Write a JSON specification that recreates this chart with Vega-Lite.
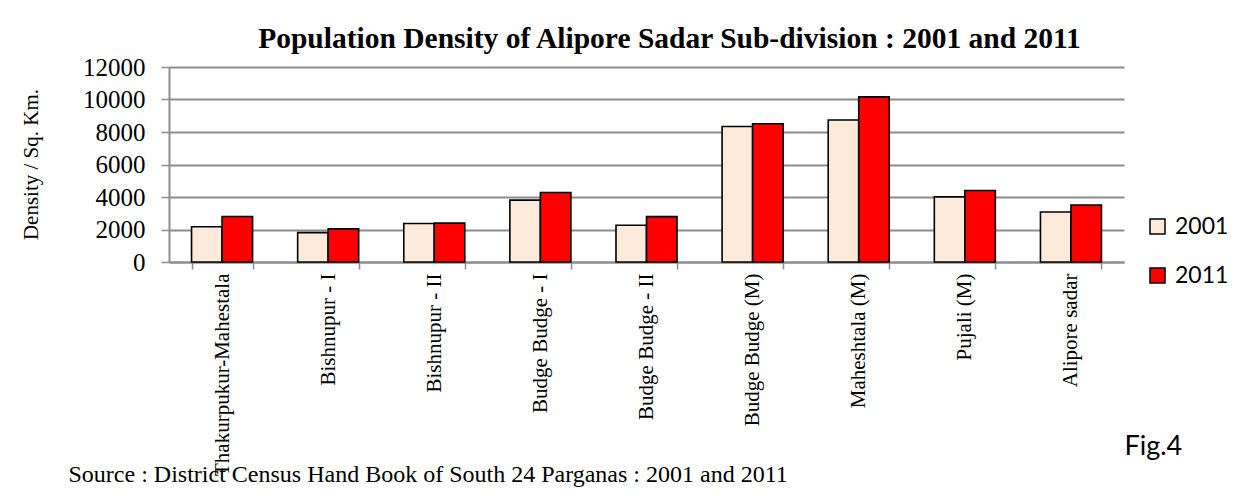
{
  "$schema": "https://vega.github.io/schema/vega-lite/v6.json",
  "width": 955,
  "height": 195,
  "autosize": {"type": "none"},
  "padding": {"left": 169, "top": 67, "right": 113, "bottom": 231},
  "background": "white",
  "title": {
    "text": "Population Density of  Alipore Sadar Sub-division : 2001 and 2011",
    "font": "Liberation Serif",
    "fontSize": 29.5,
    "fontWeight": "bold",
    "color": "black",
    "anchor": "middle",
    "dx": 23,
    "offset": 1
  },
  "data": {
    "values": [
      {"region": "Thakurpukur-Mahestala", "year": "2001", "density": 2170},
      {"region": "Thakurpukur-Mahestala", "year": "2011", "density": 2800},
      {"region": "Bishnupur - I", "year": "2001", "density": 1810},
      {"region": "Bishnupur - I", "year": "2011", "density": 2040},
      {"region": "Bishnupur - II", "year": "2001", "density": 2370},
      {"region": "Bishnupur - II", "year": "2011", "density": 2390},
      {"region": "Budge Budge - I", "year": "2001", "density": 3810},
      {"region": "Budge Budge - I", "year": "2011", "density": 4280},
      {"region": "Budge Budge - II", "year": "2001", "density": 2260},
      {"region": "Budge Budge - II", "year": "2011", "density": 2790},
      {"region": "Budge Budge (M)", "year": "2001", "density": 8340},
      {"region": "Budge Budge (M)", "year": "2011", "density": 8510},
      {"region": "Maheshtala (M)", "year": "2001", "density": 8740},
      {"region": "Maheshtala (M)", "year": "2011", "density": 10160},
      {"region": "Pujali (M)", "year": "2001", "density": 4010},
      {"region": "Pujali (M)", "year": "2011", "density": 4400},
      {"region": "Alipore sadar", "year": "2001", "density": 3080},
      {"region": "Alipore sadar", "year": "2011", "density": 3510}
    ]
  },
  "layer": [
    {
      "mark": {"type": "bar", "stroke": "black", "strokeWidth": 1.6},
      "encoding": {
        "x": {
          "field": "region",
          "type": "nominal",
          "sort": null,
          "scale": {"paddingInner": 0.425, "paddingOuter": 0.2125},
          "axis": {
            "labelAngle": -90,
            "labelFont": "Liberation Serif",
            "labelFontSize": 21,
            "labelColor": "black",
            "labelPadding": 4,
            "labelLimit": 0,
            "labelOverlap": false,
            "tickBand": "extent",
            "tickSize": 7,
            "tickColor": "#8c8c8c",
            "tickWidth": 1.5,
            "domainColor": "#8c8c8c",
            "domainWidth": 2,
            "title": "Source : District Census Hand Book of South 24 Parganas : 2001 and 2011",
            "titleFont": "Liberation Serif",
            "titleFontSize": 24,
            "titleFontWeight": "normal",
            "titleColor": "black",
            "titleAlign": "left",
            "titleAnchor": "start",
            "titleBaseline": "alphabetic",
            "titleX": -101,
            "titleY": 219
          }
        },
        "xOffset": {"field": "year", "type": "nominal", "scale": {"paddingInner": 0, "paddingOuter": 0}},
        "y": {
          "field": "density",
          "type": "quantitative",
          "scale": {"domain": [0, 12000], "nice": false},
          "axis": {
            "values": [0, 2000, 4000, 6000, 8000, 10000, 12000],
            "format": "d",
            "labelFont": "Liberation Serif",
            "labelFontSize": 25,
            "labelColor": "black",
            "labelPadding": 16,
            "tickSize": 8,
            "tickColor": "#8c8c8c",
            "tickWidth": 1.5,
            "domainColor": "#8c8c8c",
            "domainWidth": 2,
            "grid": true,
            "gridColor": "#8c8c8c",
            "gridWidth": 2,
            "title": "Density / Sq. Km.",
            "titleFont": "Liberation Serif",
            "titleFontSize": 21,
            "titleFontWeight": "normal",
            "titleColor": "black",
            "titleX": -128,
            "titleY": 97
          }
        },
        "color": {
          "field": "year",
          "type": "nominal",
          "scale": {"domain": ["2001", "2011"], "range": ["#FDEADA", "#FF0000"]},
          "legend": {
            "title": null,
            "orient": "none",
            "legendX": 977,
            "legendY": 148,
            "symbolType": "square",
            "symbolSize": 225,
            "symbolStrokeColor": "black",
            "symbolStrokeWidth": 1.5,
            "symbolOpacity": 1,
            "labelFont": "Lato",
            "labelFontSize": 23,
            "labelColor": "black",
            "labelOffset": 6,
            "rowPadding": 25
          }
        }
      }
    },
    {
      "mark": {"type": "rule", "opacity": 0},
      "encoding": {
        "y": {
          "datum": 0,
          "type": "quantitative",
          "scale": {"domain": [0, 1]},
          "axis": {
            "orient": "right",
            "labels": false,
            "ticks": false,
            "domain": false,
            "grid": false,
            "title": "Fig.4",
            "titleFont": "Lato",
            "titleFontSize": 27,
            "titleFontWeight": "normal",
            "titleColor": "black",
            "titleAngle": 0,
            "titleAlign": "left",
            "titleBaseline": "alphabetic",
            "titleX": 0,
            "titleY": 387
          }
        }
      }
    }
  ],
  "resolve": {"scale": {"y": "independent"}, "axis": {"y": "independent"}},
  "config": {
    "font": "Liberation Serif",
    "view": {"stroke": null},
    "axisY": {"labelFont": "Liberation Serif"},
    "axisLeft": {"labelFont": "Liberation Serif"}
  }
}
